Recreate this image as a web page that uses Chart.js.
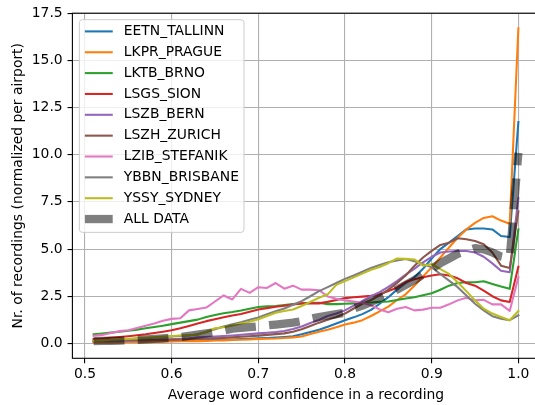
<!DOCTYPE html>
<html><head><meta charset="utf-8">
<script src="https://cdn.jsdelivr.net/npm/chart.js@4.4.1/dist/chart.umd.min.js"></script>
<style>html,body{margin:0;padding:0;overflow:hidden;background:#fff}#wrap{width:545px;height:405px}</style>
</head><body><div id="wrap"><canvas id="c" width="545" height="405"></canvas></div>
<script>
// ---------- data ----------
const xValues = [0.51,0.52,0.53,0.54,0.55,0.56,0.57,0.58,0.59,0.60,
  0.61,0.62,0.63,0.64,0.65,0.66,0.67,0.68,0.69,0.70,
  0.71,0.72,0.73,0.74,0.75,0.76,0.77,0.78,0.79,0.80,
  0.81,0.82,0.83,0.84,0.85,0.86,0.87,0.88,0.89,0.90,
  0.91,0.92,0.93,0.94,0.95,0.96,0.97,0.98,0.99,1.00];
const xTicks = [0.5,0.6,0.7,0.8,0.9,1.0];
const yTicks = [0,2.5,5,7.5,10,12.5,15,17.5];
const airports = ['EETN_TALLINN','LKPR_PRAGUE','LKTB_BRNO','LSGS_SION','LSZB_BERN','LSZH_ZURICH','LZIB_STEFANIK','YBBN_BRISBANE','YSSY_SYDNEY'];
const allDataLabel = 'ALL DATA';

const eetnTallinn = [0.10,0.10,0.11,0.11,0.12,0.12,0.13,0.13,0.14,0.14,
  0.15,0.15,0.16,0.17,0.18,0.19,0.21,0.23,0.25,0.27,
  0.29,0.31,0.34,0.38,0.48,0.60,0.72,0.88,1.05,1.23,
  1.38,1.55,1.78,2.10,2.45,2.85,3.20,3.50,3.95,4.50,
  5.00,5.34,5.69,6.04,6.09,6.09,6.04,5.69,5.64,11.73];
const lkprPrague = [0.05,0.06,0.06,0.07,0.07,0.08,0.08,0.09,0.09,0.10,
  0.11,0.12,0.12,0.13,0.15,0.16,0.18,0.19,0.21,0.23,
  0.25,0.26,0.29,0.32,0.37,0.50,0.62,0.72,0.85,1.00,
  1.10,1.23,1.45,1.70,1.95,2.30,2.60,3.05,3.55,4.03,
  4.55,5.08,5.60,6.04,6.39,6.65,6.74,6.51,6.34,16.70];
const lktbBrno = [0.48,0.52,0.57,0.62,0.67,0.73,0.80,0.87,0.94,1.02,
  1.10,1.18,1.26,1.40,1.50,1.60,1.66,1.74,1.84,1.93,
  1.96,1.98,2.03,2.08,2.12,2.14,2.15,2.08,2.08,2.10,
  2.12,2.14,2.17,2.20,2.22,2.30,2.38,2.45,2.55,2.66,
  2.84,3.06,3.20,3.24,3.24,3.29,3.15,3.01,2.89,6.04];
const lsgsSion = [0.23,0.26,0.30,0.34,0.38,0.43,0.48,0.55,0.62,0.70,
  0.80,0.92,1.05,1.18,1.28,1.38,1.48,1.56,1.68,1.80,
  1.87,1.94,2.00,2.06,2.12,2.12,2.12,2.20,2.30,2.40,
  2.45,2.48,2.52,2.60,2.78,2.95,3.25,3.40,3.50,3.60,
  3.66,3.60,3.45,3.20,3.06,2.80,2.50,2.28,2.19,4.06];
const lszbBern = [0.10,0.11,0.12,0.13,0.14,0.15,0.16,0.18,0.20,0.22,
  0.24,0.27,0.32,0.34,0.36,0.39,0.42,0.46,0.49,0.53,
  0.56,0.60,0.66,0.76,0.90,1.08,1.24,1.45,1.58,1.75,
  2.00,2.25,2.50,2.72,3.00,3.30,3.65,3.95,4.30,4.59,
  4.82,4.87,4.90,4.90,4.82,4.59,4.24,3.85,3.77,7.70];
const lszhZurich = [0.15,0.15,0.16,0.16,0.17,0.17,0.18,0.19,0.20,0.20,
  0.21,0.22,0.23,0.25,0.27,0.29,0.32,0.35,0.38,0.41,
  0.45,0.49,0.53,0.62,0.75,0.92,1.10,1.25,1.40,1.58,
  1.85,2.10,2.30,2.55,2.85,3.20,3.60,4.10,4.55,4.90,
  5.22,5.34,5.57,5.52,5.43,5.25,4.82,4.12,3.99,7.00];
const lzibStefanik = [0.40,0.45,0.55,0.65,0.70,0.82,0.93,1.05,1.20,1.30,
  1.33,1.75,1.82,1.90,2.22,2.54,2.33,2.89,2.68,2.98,
  2.94,3.20,2.90,3.06,2.85,2.85,2.82,2.49,2.37,2.28,
  2.22,2.15,2.02,1.80,1.65,1.84,1.93,1.75,1.79,1.89,
  1.89,2.07,2.28,2.42,2.28,2.31,2.07,2.07,1.72,3.50];
const ybbnBrisbane = [0.15,0.16,0.18,0.20,0.22,0.25,0.28,0.30,0.33,0.37,
  0.40,0.42,0.48,0.60,0.75,0.90,1.02,1.12,1.25,1.37,
  1.55,1.70,1.85,2.05,2.24,2.50,2.77,2.98,3.20,3.42,
  3.60,3.80,4.00,4.15,4.30,4.40,4.47,4.35,4.20,4.03,
  3.68,3.33,2.98,2.54,2.10,1.75,1.44,1.31,1.23,1.49];
const yssySydney = [0.14,0.16,0.19,0.22,0.25,0.28,0.30,0.33,0.36,0.39,
  0.42,0.44,0.46,0.60,0.80,0.86,0.95,1.05,1.15,1.28,
  1.45,1.62,1.72,1.80,1.98,2.20,2.42,2.60,3.10,3.30,
  3.50,3.70,3.90,4.05,4.25,4.50,4.48,4.45,4.12,4.20,
  3.94,3.68,3.24,2.77,2.28,1.84,1.58,1.40,1.23,1.72];
const allData = [0.12,0.13,0.14,0.15,0.17,0.19,0.21,0.24,0.27,0.30,
  0.34,0.40,0.47,0.53,0.60,0.68,0.78,0.82,0.86,0.90,
  0.95,1.00,1.05,1.10,1.18,1.30,1.40,1.48,1.55,1.62,
  1.85,2.00,2.20,2.40,2.60,2.85,3.10,3.35,3.65,3.95,
  4.25,4.50,4.75,4.90,5.05,4.98,4.82,4.60,4.50,10.10];

const seriesValues = [eetnTallinn,lkprPrague,lktbBrno,lsgsSion,lszbBern,lszhZurich,lzibStefanik,ybbnBrisbane,yssySydney];

// ---------- style ----------
const palette = ['#1f77b4','#ff7f0e','#2ca02c','#d62728','#9467bd','#8c564b','#e377c2','#7f7f7f','#bcbd22'];
const FONT = 13.9;
Chart.defaults.font.family = '"DejaVu Sans", sans-serif';
Chart.defaults.font.size = FONT;
Chart.defaults.color = '#000';

const toPts = vals => xValues.map((x, i) => ({x, y: vals[i]}));
const N = seriesValues.length + 1;
const datasets = seriesValues.map((vals, i) => ({
  label: airports[i], data: toPts(vals), borderColor: palette[i], backgroundColor: palette[i],
  borderWidth: 2.08, pointRadius: 0, fill: false, borderJoinStyle: 'round', borderCapStyle: 'square',
  order: N - i
}));
datasets.push({
  label: allDataLabel, data: toPts(allData), borderColor: 'rgba(0,0,0,0.5)', backgroundColor: 'rgba(0,0,0,0.5)',
  borderWidth: 8.3, borderDash: [30.8, 13.3], pointRadius: 0, fill: false, borderJoinStyle: 'round', borderCapStyle: 'butt',
  order: 1
});

const framePlugin = {
  id: 'frameLegend',
  afterDatasetsDraw(chart) {
    const {ctx, chartArea: a} = chart;
    ctx.save();
    ctx.strokeStyle = '#000'; ctx.lineWidth = 1.1; ctx.setLineDash([]);
    ctx.strokeRect(a.left, a.top, a.right - a.left, a.bottom - a.top);
    // legend
    const ds = chart.data.datasets;
    ctx.font = FONT + 'px "DejaVu Sans"';
    let maxW = 0;
    ds.forEach(d => { maxW = Math.max(maxW, ctx.measureText(d.label).width); });
    const bx = a.left + 6.95, by = a.top + 6.5;
    const hx0 = bx + 5.56, hx1 = hx0 + 27.8, tx = hx1 + 11.1;
    const rowH = 20.85, firstY = by + 11.7;
    const bw = tx + maxW + 5.0 - bx;
    const bh = (firstY - by) + (ds.length - 1) * rowH + 13.3;
    ctx.beginPath();
    ctx.roundRect(bx, by, bw, bh, 3);
    ctx.fillStyle = 'rgba(255,255,255,0.8)';
    ctx.fill();
    ctx.strokeStyle = '#cccccc'; ctx.lineWidth = 1;
    ctx.stroke();
    ds.forEach((d, i) => {
      const y = firstY + i * rowH;
      ctx.beginPath();
      ctx.strokeStyle = d.borderColor;
      ctx.lineWidth = d.borderWidth;
      ctx.lineCap = d.borderDash ? 'butt' : 'square';
      ctx.moveTo(hx0 + (d.borderDash ? 0 : 1), y);
      ctx.lineTo(hx1 - (d.borderDash ? 0 : 1), y);
      ctx.stroke();
      ctx.fillStyle = '#000';
      ctx.textBaseline = 'middle';
      ctx.textAlign = 'left';
      ctx.fillText(d.label, tx, y);
    });
    ctx.restore();
  }
};

new Chart(document.getElementById('c'), {
  type: 'line',
  data: {datasets},
  plugins: [framePlugin],
  options: {
    responsive: false, animation: false, devicePixelRatio: 1,
    layout: {padding: {left: 0, top: 10.8, right: 5.4, bottom: 0}},
    plugins: {legend: {display: false}, tooltip: {enabled: false}},
    elements: {point: {radius: 0}, line: {tension: 0}},
    scales: {
      x: {
        type: 'linear', min: 0.4855, max: 1.0245,
        afterBuildTicks: s => { s.ticks = xTicks.map(v => ({value: v})); },
        afterFit: s => { s.height = 46.7; },
        ticks: {callback: v => Number(v).toFixed(1), color: '#000', padding: 3.3, maxRotation: 0, minRotation: 0, autoSkip: false},
        grid: {color: '#b0b0b0', lineWidth: 1.1, tickColor: '#000', tickLength: 4.86, tickWidth: 1.1, drawTicks: true},
        border: {display: false},
        title: {display: true, text: 'Average word confidence in a recording', color: '#000', padding: {top: 0, bottom: 1.5}}
      },
      y: {
        type: 'linear', min: -0.79, max: 17.5,
        afterBuildTicks: s => { s.ticks = yTicks.map(v => ({value: v})); },
        afterFit: s => { s.width = 72.4; },
        ticks: {callback: v => Number(v).toFixed(1), color: '#000', padding: 4.86, autoSkip: false},
        grid: {color: '#b0b0b0', lineWidth: 1.1, tickColor: '#000', tickLength: 4.86, tickWidth: 1.1, drawTicks: true},
        border: {display: false},
        title: {display: true, text: 'Nr. of recordings (normalized per airport)', color: '#000', padding: {top: 10.2, bottom: 0}}
      }
    }
  }
});
</script>
</body></html>
